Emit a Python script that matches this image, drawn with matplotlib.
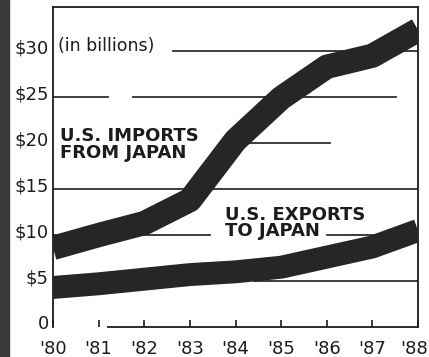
"""Newspaper-style line chart: U.S. trade with Japan, 1980-88."""

import matplotlib
import matplotlib.pyplot as plt
from matplotlib.patches import Rectangle
from matplotlib.transforms import ScaledTranslation

matplotlib.use('Agg')

years = [1980, 1981, 1982, 1983, 1984, 1985, 1986, 1987, 1988]
year_labels = ["'80", "'81", "'82", "'83", "'84", "'85", "'86", "'87", "'88"]
imports_from_japan = [8.6, 10.0, 11.3, 13.8, 20.3, 24.9, 28.3, 29.5, 32.3]
exports_to_japan = [4.3, 4.7, 5.2, 5.7, 6.0, 6.5, 7.6, 8.7, 10.5]
y_ticks = [0, 5, 10, 15, 20, 25, 30]
y_labels = ['0', '$5', '$10', '$15', '$20', '$25', '$30']

# partial gridlines (value, list of (xmin, xmax) axis fractions)
grid_segments = [
    (30, [(0.33, 1.0)]),
    (25, [(0.0, 0.15), (0.22, 0.94)]),
    (20, [(0.47, 0.76)]),
    (15, [(0.0, 1.0)]),
    (10, [(0.0, 0.43), (0.75, 0.88)]),
    (5, [(0.55, 1.0)]),
]

INK = '#1c1c1c'


def main() -> None:
    fig = plt.figure(figsize=(4.29, 3.57), dpi=100)
    fig.patch.set_facecolor('white')
    ax = fig.add_axes([53 / 429, 30 / 357, 365 / 429, 320 / 357])

    for val, segs in grid_segments:
        for x0, x1 in segs:
            ax.axhline(val, xmin=x0, xmax=x1, color=INK, lw=1.2, zorder=1)

    ax.plot(years, imports_from_japan, color='#262626', lw=17.5,
            solid_capstyle='butt', solid_joinstyle='round', zorder=3)
    ax.plot(years, exports_to_japan, color='#262626', lw=16.5,
            solid_capstyle='butt', solid_joinstyle='round', zorder=3)

    ax.set_xlim(1980, 1988)
    ax.set_ylim(0, 34.8)
    ax.set_xticks(years)
    ax.set_xticklabels(year_labels, fontsize=13, color=INK)
    ax.set_yticks(y_ticks)
    ax.set_yticklabels(y_labels, fontsize=13, color=INK)
    ax.tick_params(axis='x', direction='in', length=5, width=1.2, pad=9, colors=INK)
    ax.tick_params(axis='y', length=0, pad=3, colors=INK)
    up = ScaledTranslation(0, 5 / 100, fig.dpi_scale_trans)
    for lbl in ax.get_yticklabels():
        lbl.set_transform(lbl.get_transform() + up)
    # keep the last year label inside the figure
    last = ax.get_xticklabels()[-1]
    last.set_transform(last.get_transform() + ScaledTranslation(-4 / 100, 0, fig.dpi_scale_trans))

    for side in ['left', 'right', 'top', 'bottom']:
        ax.spines[side].set_color(INK)
        ax.spines[side].set_linewidth(1.3)
    ax.spines['bottom'].set_bounds(1981.2, 1988)

    ax.text(0.015, 0.878, '(in billions)', transform=ax.transAxes, fontsize=12.5,
            color=INK, va='center', ha='left')
    ax.text(0.02, 0.57, 'U.S. IMPORTS\nFROM JAPAN', transform=ax.transAxes,
            fontsize=13, fontweight='bold', color=INK, va='center', ha='left',
            linespacing=0.9, zorder=4)
    ax.text(0.47, 0.325, 'U.S. EXPORTS\nTO JAPAN', transform=ax.transAxes,
            fontsize=13, fontweight='bold', color=INK, va='center', ha='left',
            linespacing=0.9, zorder=4)

    # dark scan edge on the left
    fig.patches.append(Rectangle((0, 0), 9 / 429, 1, transform=fig.transFigure,
                                 color='#3a3a3a', zorder=0))

    fig.savefig('out.png', dpi=100)
    plt.close(fig)


if __name__ == '__main__':
    main()
